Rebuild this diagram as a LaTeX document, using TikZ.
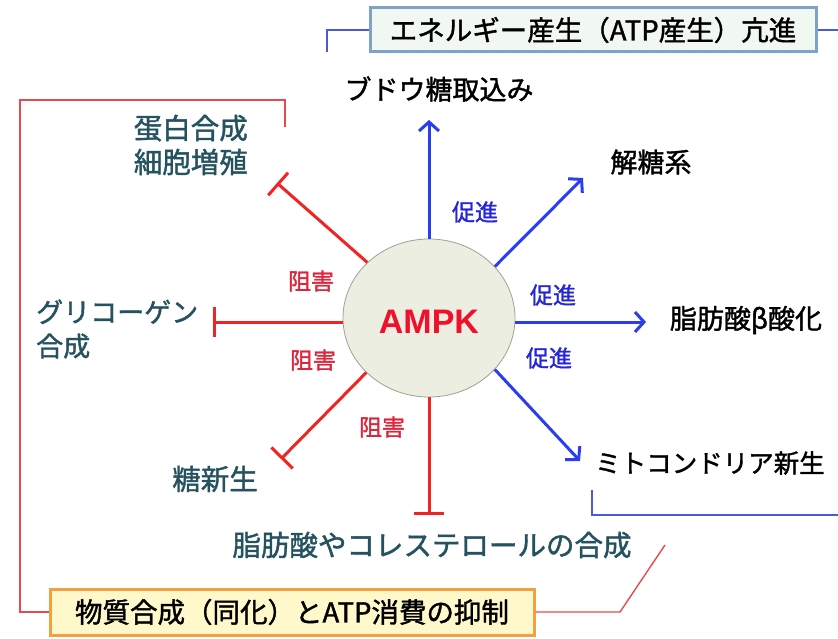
\documentclass[tikz,border=0pt]{standalone}
\usepackage{fontspec}
\setmainfont{Liberation Sans}
\newfontfamily\jp{Noto Sans CJK JP}[FakeBold=1.4]
\usetikzlibrary{arrows.meta,shapes.geometric}
\definecolor{teal}{HTML}{24525F}
\definecolor{arrblue}{HTML}{2B3EEE}
\definecolor{lblblue}{HTML}{2626D6}
\definecolor{inhred}{HTML}{F02424}
\definecolor{lblred}{HTML}{E0243A}
\definecolor{boxblue}{HTML}{7FA3C8}
\definecolor{connblue}{HTML}{4A5BD8}
\definecolor{connred}{HTML}{E84850}
\definecolor{boxorange}{HTML}{F2A040}
\begin{document}
\begin{tikzpicture}[x=1pt,y=-1pt,
  promote/.style={draw=arrblue,line width=3pt,-{Straight Barb[length=9pt,width=20pt,line width=3pt]}},
  inhibit/.style={draw=inhred,line width=3pt,-{Bar[width=30pt,line width=3pt]}},
  plbl/.style={font=\jp\fontsize{23}{25}\selectfont,text=lblblue,inner sep=0pt},
  ilbl/.style={font=\jp\fontsize{23}{25}\selectfont,text=lblred,inner sep=0pt},
  blk/.style={font=\jp\fontsize{27}{30}\selectfont,text=black,inner sep=0pt},
  tl/.style={font=\jp\fontsize{28.5}{34}\selectfont,text=teal,inner sep=0pt},
  bconn/.style={draw=connblue,line width=1.4pt},
  rconn/.style={draw=connred,line width=1.4pt}]
\useasboundingbox (0,0) rectangle (838,639);

% central node
\node[ellipse,minimum width=172pt,minimum height=158pt,fill={rgb,255:red,236;green,238;blue,226},draw={rgb,255:red,160;green,160;blue,145},line width=0.8pt,inner sep=0pt]
  (ampk) at (429,318) {};
\node[font=\bfseries\fontsize{34}{36}\selectfont,text={rgb,255:red,240;green,16;blue,42}] (ampktxt) at (429,322) {AMPK};

% targets
\node[blk] (glu) at (439,89) {ブドウ糖取込み};
\node[blk] (gly) at (651,162) {解糖系};
\node[blk] (fao) at (746,320) {脂肪酸β酸化};
\node[blk,font=\jp\fontsize{25.5}{30}\selectfont] (mito) at (710,463) {ミトコンドリア新生};

\node[tl,align=right,anchor=east] (prot) at (248,145) {蛋白合成\\細胞増殖};
\node[tl,align=left,anchor=west,font=\jp\fontsize{27}{34}\selectfont] (glyc) at (36,329) {グリコーゲン\\合成};
\node[tl] (gng) at (215,479) {糖新生};
\node[tl] (fas) at (432,545) {脂肪酸やコレステロールの合成};

% coordinates of arrow/bar ends
\coordinate (eUp) at (429,120);
\coordinate (eUR) at (583,178);
\coordinate (eR) at (646,322);
\coordinate (eDR) at (580,461);
\coordinate (eUL) at (277,183);
\coordinate (eL) at (213,322);
\coordinate (eDL) at (281,459);
\coordinate (eD) at (429,515);

\draw[promote] (ampk.north) -- (eUp);
\draw[promote] (ampk.38) -- (eUR);
\draw[promote] (ampk.east |- eR) -- (eR);
\draw[promote] (ampk.-38) -- (eDR);
\draw[inhibit] (ampk.138) -- (eUL);
\draw[inhibit] (ampk.west |- eL) -- (eL);
\draw[inhibit] (ampk.-139) -- (eDL);
\draw[inhibit] (ampk.south) -- (eD);

% labels
\node[plbl] (p1) at (475,212) {促進};
\node[plbl] (p2) at (553,295) {促進};
\node[plbl] (p3) at (549,358) {促進};
\node[ilbl] (i1) at (311,281) {阻害};
\node[ilbl] (i2) at (313,360) {阻害};
\node[ilbl] (i3) at (382,427) {阻害};

% boxes
\node[draw=boxblue,line width=3pt,fill={rgb,255:red,241;green,248;blue,241},minimum width=446pt,minimum height=44pt,inner sep=0pt,font=\jp\fontsize{27.5}{30}\selectfont]
  (ebox) at (593,30) {エネルギー産生（ATP産生）亢進};
\node[draw=boxorange,line width=3pt,fill={rgb,255:red,255;green,248;blue,202},minimum width=484pt,minimum height=46pt,inner sep=0pt,font=\jp\fontsize{27.5}{30}\selectfont]
  (sbox) at (292,612) {物質合成（同化）とATP消費の抑制};

% bracket connectors
\coordinate (bU1) at (327,52);
\coordinate (bR1) at (838,30);
\coordinate (bL1) at (592,490);
\coordinate (bL2) at (838,515);
\draw[bconn] (ebox.west) -| (bU1);
\draw[bconn] (ebox.east) -- (bR1);
\draw[bconn] (bL1) |- (bL2);

\coordinate (rT) at (285,127);
\coordinate (rC1) at (20,100);
\coordinate (rK) at (620,612);
\coordinate (rE) at (665,545);
\draw[rconn] (sbox.west) -- (20,612) -- (rC1) -| (rT);
\draw[rconn] (sbox.east) -- (rK) -- (rE);
\end{tikzpicture}
\end{document}
